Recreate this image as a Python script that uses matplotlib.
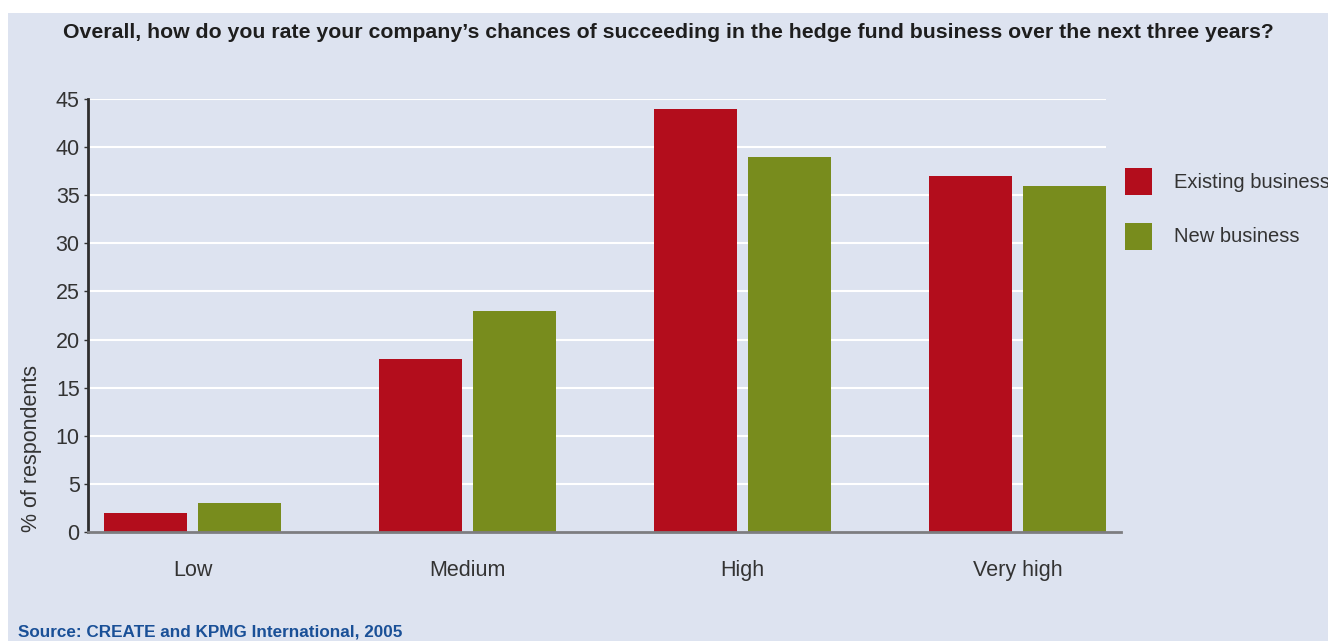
import numpy as np
import matplotlib.pyplot as plt
from matplotlib.patches import Rectangle

categories = ["Low", "Medium", "High", "Very high"]
existing = [2, 18, 44, 37]
new_business = [3, 23, 39, 36]
series_names = ["Existing business", "New business"]
yticks = [0, 5, 10, 15, 20, 25, 30, 35, 40, 45]

bg = "#dde3f0"
red = "#b30d1c"
green = "#788c1d"
text_col = "#333333"

plt.rcParams['font.family'] = ['Liberation Sans', 'DejaVu Sans']

fig = plt.figure(figsize=(13.28, 6.41), dpi=100)
fig.patch.set_facecolor("white")
# shaded panel behind everything
fig.patches.append(Rectangle((8 / 1328, 0), 1, 1 - 13 / 641, transform=fig.transFigure,
                             facecolor=bg, edgecolor="none", zorder=-10))

ax = fig.add_axes([88 / 1328, 1 - 532 / 641, (1121 - 88) / 1328, (532 - 99) / 641])
ax.set_facecolor(bg)

x = np.arange(len(categories))
w = 0.302
off = 0.171
ax.bar(x - off, existing, w, color=red, zorder=3)
ax.bar(x + off, new_business, w, color=green, zorder=3)

ax.set_xlim(-0.38, 3.376)
ax.set_ylim(0, 45)
ax.hlines(yticks[1:], -0.38, 3.322, color="white", lw=1.5, zorder=1)

ax.set_yticks(yticks)
ax.set_xticks(x)
ax.set_xticklabels(categories)
ax.tick_params(axis="y", labelsize=15.5, colors=text_col, length=3, width=1, pad=3)
ax.tick_params(axis="x", labelsize=15.5, colors=text_col, length=0, pad=20)
ax.set_ylabel("% of respondents", fontsize=15.5, color=text_col)
ax.yaxis.set_label_coords(-0.045, 0.193)

for s in ["top", "right"]:
    ax.spines[s].set_visible(False)
ax.spines["left"].set_color("#2e2e2e")
ax.spines["left"].set_linewidth(2)
ax.spines["bottom"].set_color("#7d7d80")
ax.spines["bottom"].set_linewidth(2)
ax.spines["bottom"].set_zorder(4)

fig.text(63 / 1328, 1 - 33 / 641,
         "Overall, how do you rate your company\u2019s chances of succeeding in the hedge fund business over the next three years?",
         fontsize=15.3, fontweight="bold", color="#1e1e1e", va="center", ha="left")

# legend drawn by hand beside the plot area
for i, (name, col) in enumerate(zip(series_names, [red, green])):
    top = 168 + i * 55
    fig.patches.append(Rectangle((1125 / 1328, 1 - (top + 27) / 641), 27 / 1328, 27 / 641,
                                 transform=fig.transFigure, facecolor=col, edgecolor="none"))
    fig.text(1174 / 1328, 1 - (top + 14) / 641, name, fontsize=14.5, color=text_col,
             va="center", ha="left")

fig.text(18 / 1328, 1 - 632 / 641, "Source: CREATE and KPMG International, 2005",
         fontsize=12.3, fontweight="bold", color="#1a5097", va="center", ha="left")

fig.savefig("out.png", dpi=100, facecolor=fig.get_facecolor())
